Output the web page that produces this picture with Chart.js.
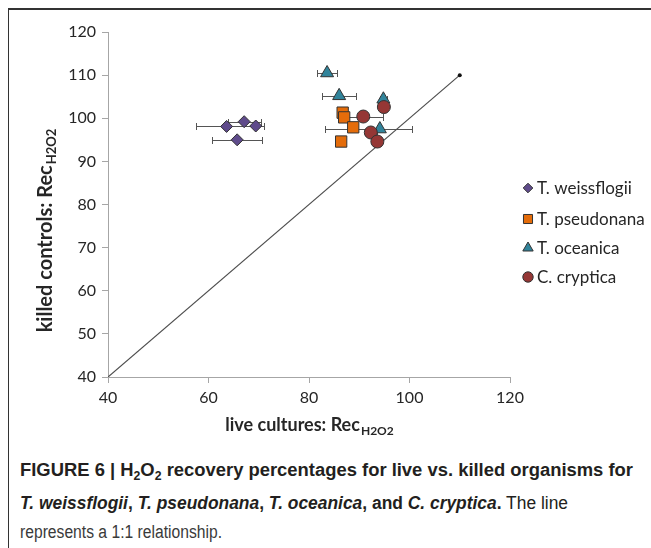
<!DOCTYPE html>
<html>
<head>
<meta charset="utf-8">
<script src="https://cdn.jsdelivr.net/npm/chart.js@4.4.1/dist/chart.umd.min.js"></script>
<style>
  html, body { margin: 0; padding: 0; background: #fff; }
  #wrap { position: relative; width: 651px; height: 548px; overflow: hidden; }
  #frame { position: absolute; left: 8px; top: 8px; width: 700px; height: 600px;
           border-left: 1px solid #333; border-top: 2px solid #333; }
  #chartBox { position: absolute; left: 0; top: 0; width: 651px; height: 445px; }
  .cap { position: absolute; left: 20px; white-space: nowrap; color: #231f20;
         font-family: "Liberation Sans Narrow", "Liberation Sans", Arial, sans-serif;
         font-size: 18px; line-height: 20px; transform-origin: 0 50%; }
  .cap sub { font-size: 12px; vertical-align: -4px; line-height: 0; }
  .cap.plain { color: #3a3a3a; }
</style>
</head>
<body>
<div id="wrap">
  <div id="frame"></div>
  <div id="chartBox"><canvas id="chart"></canvas></div>
  <div class="cap" data-w="613" style="top:460px"><b>FIGURE 6 | H<sub>2</sub>O<sub>2</sub> recovery percentages for live vs. killed organisms for</b></div>
  <div class="cap" data-w="548" style="top:493px"><b><i>T. weissflogii</i>, <i>T. pseudonana</i>, <i>T. oceanica</i>, and <i>C. cryptica</i>.</b> The line</div>
  <div class="cap plain" data-w="202" style="top:522px">represents a 1:1 relationship.</div>
</div>
<script>
// 图例名称
const seriesNames = ['T. weissflogii', 'T. pseudonana', 'T. oceanica', 'C. cryptica'];

// T. weissflogii
const weissX = [63.6, 67.1, 69.4, 65.7];
const weissY = [98.1, 99.2, 98.2, 95.0];
const weissLo = [57.5, 63.9, null, 60.6];
const weissHi = [71.0, 70.5, null, 70.6];

// T. pseudonana
const pseudoX = [86.7, 87.0, 88.8, 86.4];
const pseudoY = [101.3, 100.2, 97.9, 94.6];

// T. oceanica
const oceanX = [83.6, 86.0, 94.8, 94.1];
const oceanY = [110.5, 105.2, 104.4, 97.5];
const oceanLo = [81.5, 82.6, 94.1, 83.2];
const oceanHi = [85.6, 89.3, 95.5, 100.4];

// C. cryptica
const cryptX = [90.8, 94.9, 92.3, 93.6];
const cryptY = [100.4, 102.6, 96.7, 94.6];
const cryptLo = [87.6, null, 91.1, null];
const cryptHi = [94.8, null, 93.5, null];

// 1:1 线
const lineX = [40, 110];
const lineY = [40, 110];

// 刻度
const xTicks = [40, 60, 80, 100, 120];
const yTicks = [40, 50, 60, 70, 80, 90, 100, 110, 120];

const colors = ['#5f4b8b', '#e46c0a', '#31849b', '#953735'];
const styles = ['rectRot', 'rect', 'triangle', 'circle'];
const radii = [6, 8, 7.5, 6.5];

function pts(xs, ys) {
  return xs.map((x, i) => ({ x: x, y: ys[i] }));
}

const errSets = [
  { y: weissY, lo: weissLo, hi: weissHi },
  { y: oceanY, lo: oceanLo, hi: oceanHi },
  { y: cryptY, lo: cryptLo, hi: cryptHi }
];

// 误差线
const errorBars = {
  id: 'errorBars',
  beforeDatasetsDraw(chart) {
    const ctx = chart.ctx, xs = chart.scales.x, ys = chart.scales.y;
    ctx.save();
    ctx.strokeStyle = '#555';
    ctx.lineWidth = 1;
    errSets.forEach(s => {
      s.lo.forEach((lo, i) => {
        if (lo == null) return;
        const y = Math.round(ys.getPixelForValue(s.y[i])) + 0.5;
        const x1 = Math.round(xs.getPixelForValue(lo)) + 0.5;
        const x2 = Math.round(xs.getPixelForValue(s.hi[i])) + 0.5;
        ctx.beginPath();
        ctx.moveTo(x1, y); ctx.lineTo(x2, y);
        ctx.moveTo(x1, y - 3.5); ctx.lineTo(x1, y + 3.5);
        ctx.moveTo(x2, y - 3.5); ctx.lineTo(x2, y + 3.5);
        ctx.stroke();
      });
    });
    ctx.restore();
  }
};

// 轴标题和图例
const extras = {
  id: 'extras',
  afterDraw(chart) {
    const ctx = chart.ctx, area = chart.chartArea;
    ctx.save();
    ctx.fillStyle = '#262626';
    ctx.textBaseline = 'alphabetic';

    // x 轴标题
    const mainX = 'live cultures: Rec', subX = 'H2O2';
    ctx.font = 'bold 18px Lato';
    const w1 = ctx.measureText(mainX).width;
    ctx.font = 'bold 12px Lato';
    const w2 = ctx.measureText(subX).width;
    let sx = (area.left + area.right) / 2 - (w1 + w2) / 2;
    ctx.font = 'bold 18px Lato';
    ctx.fillText(mainX, sx, 431);
    ctx.font = 'bold 12px Lato';
    ctx.fillText(subX, sx + w1 + 1, 435);

    // y 轴标题
    const mainY = 'killed controls: Rec';
    ctx.translate(52, 231);
    ctx.rotate(-Math.PI / 2);
    ctx.font = 'bold 20px Lato';
    const h1 = ctx.measureText(mainY).width;
    ctx.font = 'bold 13px Lato';
    const h2 = ctx.measureText(subX).width;
    const sy = -(h1 + h2) / 2;
    ctx.font = 'bold 20px Lato';
    ctx.fillText(mainY, sy, 0);
    ctx.font = 'bold 13px Lato';
    ctx.fillText(subX, sy + h1 + 1, 4);
    ctx.restore();

    // 图例
    const legendY = [188, 219, 248, 277];
    ctx.save();
    seriesNames.forEach((name, i) => {
      ctx.fillStyle = colors[i];
      ctx.strokeStyle = '#333';
      ctx.lineWidth = 1;
      Chart.helpers.drawPoint(ctx, { pointStyle: styles[i], radius: radii[i] * 0.8, rotation: 0, borderWidth: 1 }, 528, legendY[i]);
      ctx.fillStyle = '#262626';
      ctx.font = '17px Lato';
      ctx.textBaseline = 'middle';
      ctx.fillText(name, 537, legendY[i] + 1);
    });
    ctx.restore();
  }
};

function scatterSet(i, xs, ys) {
  return {
    label: seriesNames[i],
    data: pts(xs, ys),
    pointStyle: styles[i],
    pointRadius: radii[i],
    pointHoverRadius: radii[i],
    backgroundColor: colors[i],
    borderColor: '#333',
    borderWidth: 1,
    order: 0
  };
}

const axisColor = '#a6a6a6';
const tickFont = { family: 'Lato', size: 16 };

new Chart(document.getElementById('chart'), {
  type: 'scatter',
  data: {
    datasets: [
      scatterSet(3, cryptX, cryptY),
      scatterSet(2, oceanX, oceanY),
      scatterSet(1, pseudoX, pseudoY),
      scatterSet(0, weissX, weissY),
      {
        label: '1:1',
        data: pts(lineX, lineY),
        showLine: true,
        borderColor: '#4d4d4d',
        borderWidth: 1.2,
        pointRadius: [0, 2],
        pointBackgroundColor: '#111',
        pointBorderWidth: 0,
        order: 1
      }
    ]
  },
  options: {
    responsive: true,
    maintainAspectRatio: false,
    animation: false,
    layout: { padding: { left: 48, right: 141, top: 32, bottom: 28 } },
    plugins: { legend: { display: false }, tooltip: { enabled: false } },
    scales: {
      x: {
        type: 'linear',
        min: 40, max: 120,
        afterFit(scale) { scale.height = 40; },
        afterBuildTicks(scale) { scale.ticks = xTicks.map(v => ({ value: v })); },
        grid: { drawOnChartArea: false, drawTicks: true, tickLength: 6, color: axisColor },
        border: { color: axisColor },
        ticks: { color: '#262626', font: tickFont, padding: 5 }
      },
      y: {
        type: 'linear',
        min: 40, max: 120,
        afterFit(scale) { scale.width = 60; },
        afterBuildTicks(scale) { scale.ticks = yTicks.map(v => ({ value: v })); },
        grid: { drawOnChartArea: false, drawTicks: true, tickLength: 6, color: axisColor },
        border: { color: axisColor },
        ticks: { color: '#262626', font: tickFont, padding: 6 }
      }
    }
  },
  plugins: [errorBars, extras]
});

// 标题文字按原图宽度拉伸
function fitCaptions() {
  document.querySelectorAll('.cap').forEach(el => {
    const target = parseFloat(el.dataset.w);
    const w = el.getBoundingClientRect().width;
    if (w > 0) el.style.transform = 'scaleX(' + (target / w) + ')';
  });
}
if (document.fonts && document.fonts.ready) {
  document.fonts.ready.then(fitCaptions);
} else {
  fitCaptions();
}
</script>
</body>
</html>
